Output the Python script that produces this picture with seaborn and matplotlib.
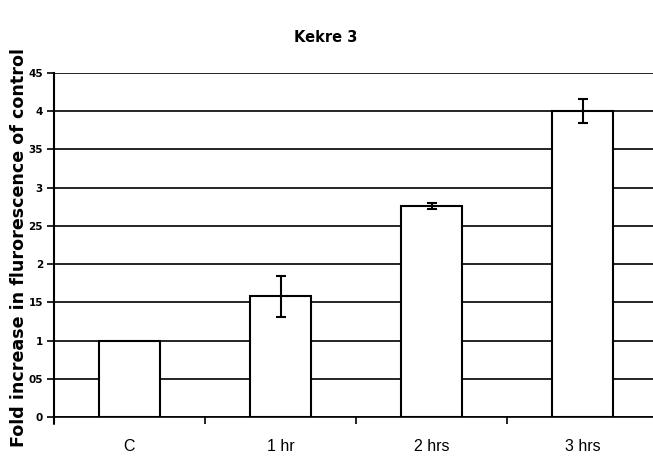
import matplotlib
matplotlib.use("Agg")
import matplotlib.pyplot as plt
import seaborn as sns
import pandas as pd

categories = ["C", "1 hr", "2 hrs", "3 hrs"]
values = [1.0, 1.58, 2.76, 4.0]
errors = [0.0, 0.27, 0.04, 0.16]
ytick_values = [0, 0.5, 1, 1.5, 2, 2.5, 3, 3.5, 4, 4.5]
ytick_labels = ["0", "05", "1", "15", "2", "25", "3", "35", "4", "45"]

sns.set_style("white")
plt.rcParams["font.family"] = ["Liberation Sans", "DejaVu Sans"]
plt.rcParams["text.color"] = "black"
plt.rcParams["axes.labelcolor"] = "black"
plt.rcParams["xtick.color"] = "black"
plt.rcParams["ytick.color"] = "black"

df = pd.DataFrame({"cat": categories, "val": values})

fig = plt.figure(figsize=(6.53, 4.58), dpi=100)
ax = fig.add_axes([54 / 653, 1 - 417 / 458, 604 / 653, (417 - 73) / 458])

for y in ytick_values:
    ax.axhline(y, color="black", lw=1.2, zorder=0)

sns.barplot(data=df, x="cat", y="val", ax=ax, color="white", edgecolor="black",
            linewidth=1.5, width=0.40, errorbar=None, zorder=2)
for i, (v, e) in enumerate(zip(values, errors)):
    if e > 0:
        ax.errorbar(i, v, yerr=e, fmt="none", ecolor="black", elinewidth=1.5,
                    capsize=3.5, capthick=1.5, zorder=3)

ax.set_xlim(-0.5, 3.5)
ax.set_ylim(0, 4.5)
ax.set_yticks(ytick_values)
ax.set_yticklabels(ytick_labels, fontsize=7.5, fontweight="bold",
                   family="DejaVu Sans")
ax.tick_params(axis="y", length=5, width=1.2, color="black", left=True, pad=3)
ax.set_xticks(range(len(categories)))
ax.set_xticklabels(categories, fontsize=11.5)
ax.tick_params(axis="x", which="major", length=0, pad=16)
ax.set_xticks([0.5, 1.5, 2.5], minor=True)
ax.tick_params(axis="x", which="minor", length=5, width=1.2, color="black", bottom=True)

for s in ["top", "right"]:
    ax.spines[s].set_visible(False)
ax.spines["left"].set_color("black")
ax.spines["left"].set_linewidth(1.5)
ax.spines["bottom"].set_color("black")
ax.spines["bottom"].set_linewidth(1.2)
# y-axis line extends slightly below zero, as in the reference
ax.plot([-0.5, -0.5], [0, -0.09], color="black", lw=1.5, clip_on=False)

ax.set_xlabel("")
ax.set_ylabel("Fold increase in flurorescence of control", fontsize=12.6,
              fontweight="bold", family="DejaVu Sans")
ax.yaxis.set_label_coords(-0.043, 0.493)
fig.text(326 / 653, 1 - 38 / 458, "Kekre 3", ha="center", va="center",
         fontsize=10.5, fontweight="bold", family="DejaVu Sans")

fig.savefig("out.png", dpi=100)
